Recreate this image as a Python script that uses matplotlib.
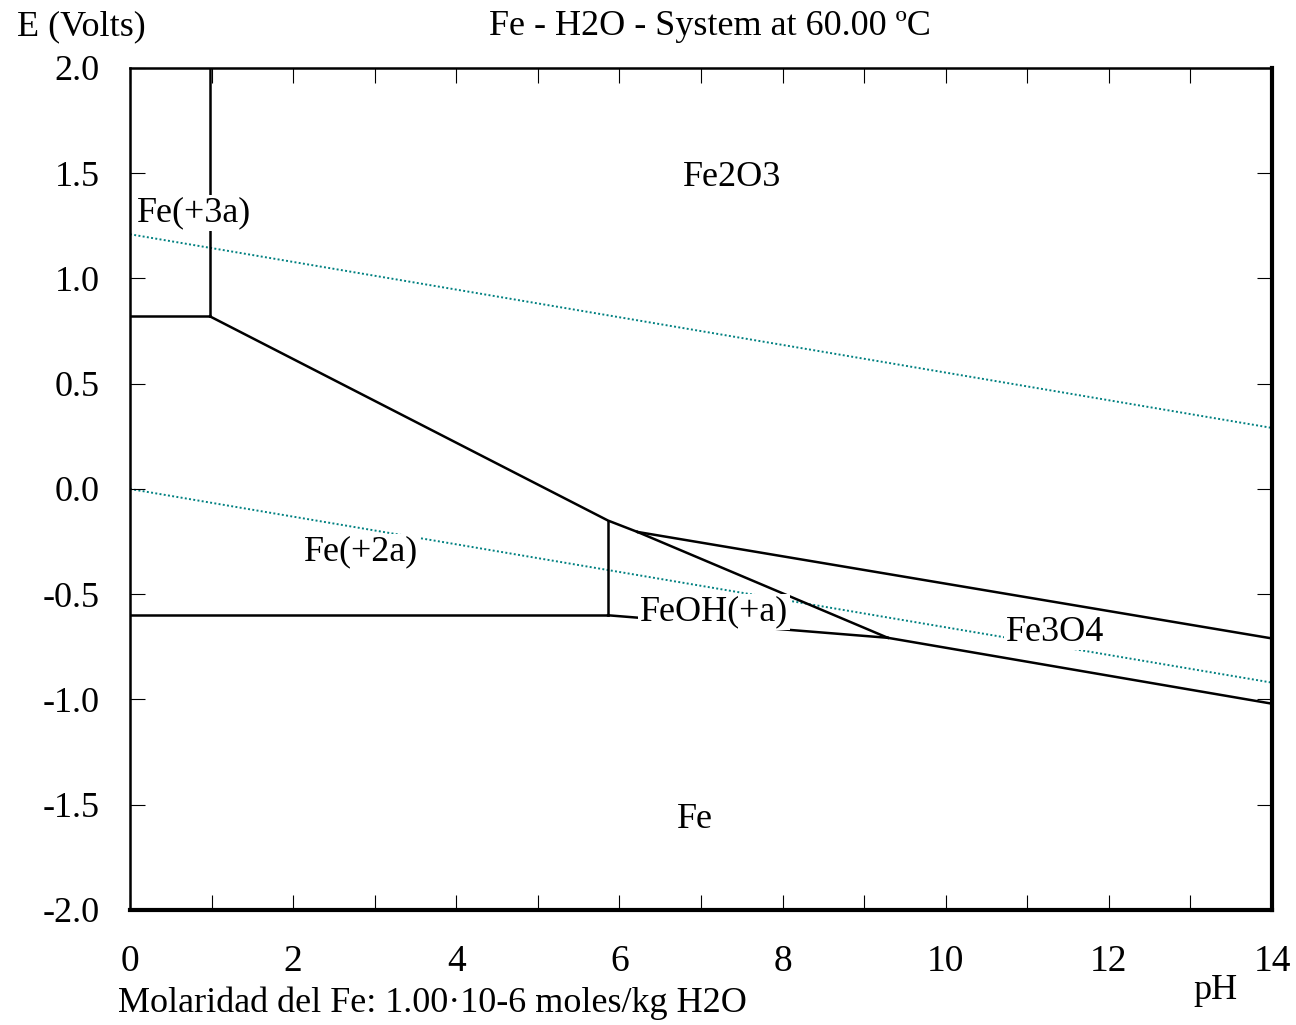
"""
Pourbaix diagram: Fe - H2O system at 60 C
"""
import matplotlib
matplotlib.use("Agg")
import matplotlib.pyplot as plt
from matplotlib.ticker import MultipleLocator

plt.rc("font", family="Liberation Serif", size=26)

# boundary lines (pH, E)
fe3_fe2o3_ph = [0.98, 0.98]
fe3_fe2o3_e = [2.0, 0.82]
fe3_fe2_ph = [0.0, 0.98]
fe3_fe2_e = [0.82, 0.82]
fe2_fe2o3_ph = [0.98, 5.86, 6.22]
fe2_fe2o3_e = [0.82, -0.15, -0.204]
fe2_feoh_ph = [5.86, 5.86]
fe2_feoh_e = [-0.15, -0.60]
fe2_fe_ph = [0.0, 5.86]
fe2_fe_e = [-0.60, -0.60]
feoh_fe_ph = [5.86, 9.29]
feoh_fe_e = [-0.60, -0.707]
fe2o3_fe3o4_ph = [6.22, 14.0]
fe2o3_fe3o4_e = [-0.204, -0.71]
feoh_fe3o4_ph = [6.22, 9.29]
feoh_fe3o4_e = [-0.204, -0.707]
fe3o4_fe_ph = [9.29, 14.0]
fe3o4_fe_e = [-0.707, -1.02]

boundaries = [
    (fe3_fe2o3_ph, fe3_fe2o3_e), (fe3_fe2_ph, fe3_fe2_e),
    (fe2_fe2o3_ph, fe2_fe2o3_e), (fe2_feoh_ph, fe2_feoh_e),
    (fe2_fe_ph, fe2_fe_e), (feoh_fe_ph, feoh_fe_e),
    (fe2o3_fe3o4_ph, fe2o3_fe3o4_e), (feoh_fe3o4_ph, feoh_fe3o4_e),
    (fe3o4_fe_ph, fe3o4_fe_e),
]

# water stability lines
o2_ph = [0.0, 14.0]
o2_e = [1.21, 0.29]
h2_ph = [0.0, 14.0]
h2_e = [0.0, -0.92]

# species labels
species = ["Fe2O3", "Fe(+3a)", "Fe(+2a)", "FeOH(+a)", "Fe3O4", "Fe"]
species_ph = [7.38, 0.09, 2.83, 7.16, 11.34, 6.93]
species_e = [1.48, 1.31, -0.30, -0.585, -0.68, -1.57]
species_ha = ["center", "left", "center", "center", "center", "center"]

fig = plt.figure(figsize=(12.96, 10.25), dpi=100)
ax = fig.add_axes([0.1003, 0.1122, 0.8812, 0.8215])

ax.plot(o2_ph, o2_e, color="#008080", lw=1.4, ls=(0, (1, 1.2)), zorder=1)
ax.plot(h2_ph, h2_e, color="#008080", lw=1.4, ls=(0, (1, 1.2)), zorder=1)
for ph, e in boundaries:
    ax.plot(ph, e, color="black", lw=1.8, zorder=2)

for name, x, y, ha in zip(species, species_ph, species_e, species_ha):
    ax.text(x, y, name, ha=ha, va="center", fontsize=26, zorder=5,
            bbox={"facecolor": "white", "edgecolor": "none", "pad": 1})

ax.set_xlim(0, 14)
ax.set_ylim(-2, 2)
ax.xaxis.set_major_locator(MultipleLocator(2))
ax.xaxis.set_minor_locator(MultipleLocator(1))
ax.yaxis.set_major_locator(MultipleLocator(0.5))
ax.yaxis.set_major_formatter(plt.FuncFormatter(lambda v, p: "%.1f" % v))
ax.tick_params(axis="x", which="both", direction="in", top=True, length=11,
               width=0.8, pad=25, labelsize=27)
ax.tick_params(axis="y", which="both", direction="in", right=True, length=11,
               width=0.8, pad=22, labelsize=26)
for s in ["left", "top"]:
    ax.spines[s].set_linewidth(1.8)
for s in ["bottom", "right"]:
    ax.spines[s].set_linewidth(3.0)

fig.text(0.063, 0.974, "E (Volts)", ha="center", va="center", fontsize=26)
fig.text(0.548, 0.974, "Fe - H2O - System at 60.00 ºC", ha="center", va="center", fontsize=26)
fig.text(0.938, 0.034, "pH", ha="center", va="center", fontsize=26)
fig.text(0.091, 0.021, "Molaridad del Fe: 1.00·10-6 moles/kg H2O", ha="left", va="center", fontsize=26)

fig.savefig("out.png", dpi=100, facecolor="white")
